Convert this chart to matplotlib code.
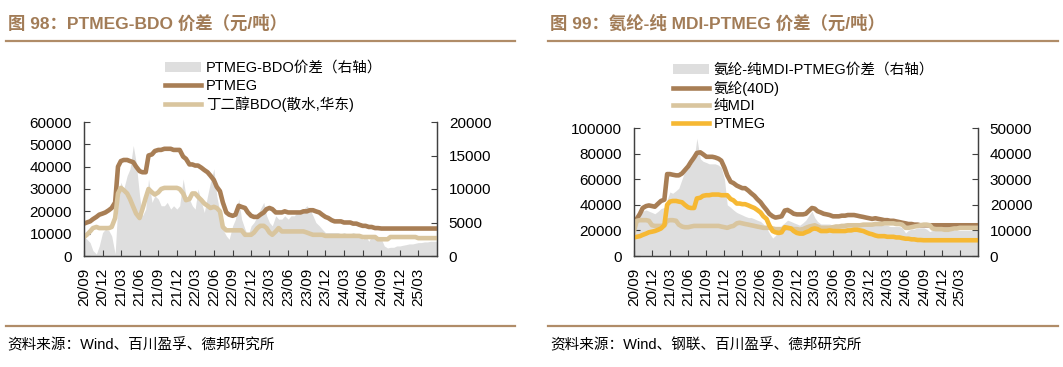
import matplotlib.pyplot as plt
import pandas as pd
from matplotlib.lines import Line2D

plt.rcParams["font.family"] = ["Liberation Sans", "Noto Sans CJK SC"]

# semi-monthly observations, 2020-09 .. 2025-06
dates = pd.date_range("2020-09-01", "2025-06-01", freq="SMS")
quarter_ticks = pd.date_range("2020-09-01", "2025-03-01", freq="3MS")

ptmeg = [
    14500, 15000, 15500, 16500, 17500, 18500, 19000, 19500,  # 20/09-20/12
    20500, 21500, 24000, 40000, 42500, 43000, 43000, 42500, 42000, 40000, 38000, 37500,
    37500, 45000, 45500, 47000, 47500, 47500, 48000, 48000, 48000, 47500, 47500, 47500,
    44500, 43500, 41000, 41000, 40500, 40500, 39500, 38500, 37500, 36000, 34000, 31000,
    29000, 24000, 19500, 18500, 18000, 18500, 22500, 22000, 21500, 19500, 18000, 17500,
    17500, 18500, 19500, 21000, 21500, 21000, 19500, 19500, 19500, 20000, 19500, 19500,
    19500, 19500, 19500, 20000, 20000, 20500, 20500, 20000, 19500, 18500, 17500, 17000,
    16000, 15500, 15500, 15500, 15000, 15000, 15000, 14500, 14500, 14000, 13500, 13500,
    13000, 13000, 12500, 12500, 12300, 12300, 12300, 12300, 12300, 12300, 12300, 12300,
    12300, 12300, 12300, 12300, 12300, 12300, 12300, 12300, 12300, 12300, 12300,
]
bdo = [
    8500, 9500, 11000, 12500, 13000, 12500, 12500, 12500,
    12500, 13000, 17000, 28000, 30500, 29500, 28000, 25500, 22000, 19000, 17000, 21000,
    26000, 30000, 28500, 27500, 28500, 30000, 30500, 30500, 30500, 30500, 30500, 30000,
    28000, 25000, 25500, 28000, 28000, 26500, 25000, 23500, 22500, 21500, 22000, 21500,
    20000, 13000, 11500, 11500, 11500, 11500, 11500, 11500, 9500, 9500, 9500, 10500,
    12500, 13500, 13500, 12500, 10500, 9500, 11000, 12500, 11000, 11000, 11000, 11000,
    11000, 11000, 11000, 11000, 10500, 10000, 9500, 9500, 9500, 9500, 9000, 9000,
    9000, 9000, 9000, 9000, 9000, 9000, 9000, 9000, 9000, 9000, 8500, 8500,
    8500, 8500, 8500, 7500, 7500, 7500, 7500, 8500, 8500, 8500, 8500, 8500,
    8500, 8500, 8500, 8500, 8000, 8000, 8000, 8000, 8000, 8000, 8000,
]
ptmeg_bdo = [
    3000, 2500, 2000, 800, 300, 1500, 3500, 4000,
    3800, 3000, 300, 8000, 11000, 10000, 12000, 13000, 16500, 14000, 9000, 6000,
    7000, 11500, 8000, 9000, 8500, 7500, 7500, 8000, 7000, 7500, 7000, 7500,
    11500, 9000, 8500, 7500, 7000, 10000, 8000, 6500, 9000, 11000, 13000, 9000,
    6500, 4000, 3000, 2500, 4500, 5500, 8500, 5500, 4000, 3000, 4500, 5000,
    6000, 7000, 8000, 6000, 5000, 4500, 6000, 5500, 5500, 6000, 5500, 6000,
    6000, 6500, 6500, 7000, 7500, 7000, 6000, 5000, 4500, 4000, 3500, 3500,
    3500, 3500, 3500, 3300, 3500, 3300, 3300, 3500, 3300, 3000, 2500, 3000,
    2200, 3000, 3000, 2500, 2500, 1500, 1200, 1300, 1300, 1500, 1500, 1600,
    1700, 1800, 1800, 1900, 2000, 2000, 2100, 2100, 2200, 2200, 2200,
]

spandex = [
    28000, 29000, 33000, 37500, 39000, 39500, 39000, 38500,
    41000, 43000, 44000, 64000, 64000, 63500, 63000, 63000, 64500, 67000, 70000, 73500,
    77000, 80500, 81000, 79500, 77500, 77500, 77500, 77000, 76000, 74500, 69000, 63000,
    58000, 57000, 55000, 54000, 53000, 53000, 51000, 49000, 47000, 44500, 42000, 39000,
    36000, 33000, 31000, 30000, 30500, 31000, 35500, 36000, 34500, 33000, 32500, 32500,
    32500, 33000, 35500, 37500, 37000, 35000, 34000, 33000, 32500, 32000, 31000, 31000,
    31000, 31500, 31500, 32000, 32000, 32000, 31500, 31000, 30500, 30000, 29500, 29000,
    29500, 29000, 28500, 28000, 28000, 27500, 27500, 27000, 26500, 26000, 25500, 25000,
    25000, 24500, 24500, 24000, 24000, 24000, 24000, 24000, 24000, 24000, 24000, 24000,
    24000, 24000, 24000, 24000, 24000, 24000, 24000, 24000, 24000, 24000, 24000,
]
mdi = [
    19500, 27500, 28000, 28000, 28000, 27500, 24000, 23500,
    23500, 23500, 24000, 27500, 28000, 28000, 27500, 24500, 23000, 22500, 22500, 23000,
    23500, 23500, 23500, 23500, 23500, 23500, 23500, 23500, 23500, 23000, 22500, 22000,
    23000, 23500, 25500, 26000, 25500, 25000, 24500, 24000, 23500, 23000, 22500, 22000,
    22000, 22000, 21500, 21000, 21000, 21000, 21500, 22000, 21500, 21000, 21000, 20500,
    21000, 22000, 23000, 23500, 24000, 23000, 22000, 22000, 22000, 22000, 22500, 23000,
    23000, 23500, 23500, 24000, 24000, 24000, 24000, 24000, 24500, 24500, 24500, 24500,
    25000, 25000, 25000, 25500, 25500, 25500, 25500, 25000, 25000, 24500, 22000, 22000,
    22500, 23000, 23500, 24000, 24500, 24500, 24000, 21500, 21000, 21000, 21000, 20500,
    20500, 21000, 21500, 21500, 22000, 22000, 22000, 22000, 22000, 22000, 22000,
]
spandex_spread = [
    13000, 15000, 16000, 17500, 18000, 17500, 17000, 16500,
    17500, 18500, 19000, 22000, 25000, 24500, 25500, 26500, 30000, 33000, 34000, 35500,
    38000, 46000, 38000, 37000, 36500, 36000, 36000, 36000, 35500, 34500, 30000, 20000,
    19000, 18000, 17000, 16500, 16000, 15500, 15000, 15000, 14500, 14000, 13500, 12500,
    11000, 9000, 7000, 8000, 10000, 12000, 13000, 14000, 13500, 13000, 12500, 12000,
    13000, 14000, 16000, 17500, 15000, 13500, 12500, 12500, 12500, 12500, 12000, 12500,
    12500, 12500, 13000, 13000, 13000, 13000, 13000, 12500, 12500, 12500, 12000, 12000,
    12000, 12000, 12000, 12000, 12000, 11500, 11500, 11500, 11500, 11000, 9000, 10000,
    10500, 10500, 11000, 11000, 11000, 10500, 9500, 10000, 10000, 10000, 10000, 10000,
    10000, 10000, 10000, 10000, 10000, 10000, 10000, 10000, 10000, 10000, 10000,
]

BROWN = "#a87e55"
TAN = "#d9c59e"
YELLOW = "#f6b833"
GRAY = "#dedede"
TITLE = "#a27c57"
RULE = "#b08c68"
AXIS = "#404040"


def draw_panel(ax, spread, spread_label, lines, left_ticks, right_ticks, legend_at):
    ax2 = ax.twinx()
    ax2.fill_between(dates, 0, spread, color=GRAY, lw=0, label=spread_label)
    for values, color, label in lines:
        ax.plot(dates, values, color=color, lw=3.3, label=label)
    ax.set_zorder(ax2.get_zorder() + 1)
    ax.patch.set_visible(False)

    ax.set_xlim(dates[0], dates[-1])
    ax.set_ylim(left_ticks[0], left_ticks[-1])
    ax2.set_ylim(right_ticks[0], right_ticks[-1])
    ax.set_yticks(left_ticks)
    ax2.set_yticks(right_ticks)
    ax.set_xticks(quarter_ticks)
    ax.set_xticklabels([d.strftime("%y/%m") for d in quarter_ticks], rotation=90, fontsize=10.5)
    for a in (ax, ax2):
        a.spines["top"].set_visible(False)
        for s in ("left", "right", "bottom"):
            a.spines[s].set_color(AXIS)
            a.spines[s].set_linewidth(0.9)
        a.tick_params(direction="in", length=4, color=AXIS, pad=8.5, labelsize=11)

    handles = ax2.get_legend_handles_labels()[0] + ax.get_legend_handles_labels()[0]
    ax.legend(handles=handles, loc="upper left", bbox_to_anchor=legend_at,
              bbox_transform=ax.figure.transFigure, frameon=False, fontsize=10.5,
              handlelength=2.5, handletextpad=0.3, labelspacing=0.25,
              borderpad=0, borderaxespad=0)


fig = plt.figure(figsize=(10.63, 3.67), dpi=100)
W, H = 1063, 367

ax_left = fig.add_axes([84 / W, 1 - 256 / H, 353 / W, 134 / H])
draw_panel(ax_left, ptmeg_bdo, "PTMEG-BDO价差（右轴）",
           [(ptmeg, BROWN, "PTMEG"), (bdo, TAN, "丁二醇BDO(散水,华东)")],
           list(range(0, 60001, 10000)), list(range(0, 20001, 5000)),
           (165 / W, 1 - 61 / H))

ax_right = fig.add_axes([634 / W, 1 - 256 / H, 344 / W, 128 / H])
draw_panel(ax_right, spandex_spread, "氨纶-纯MDI-PTMEG价差（右轴）",
           [(spandex, BROWN, "氨纶(40D)"), (mdi, TAN, "纯MDI"), (ptmeg, YELLOW, "PTMEG")],
           list(range(0, 100001, 20000)), list(range(0, 50001, 10000)),
           (673 / W, 1 - 63 / H))

# titles, rules and sources
fig.text(8 / W, 1 - 23 / H, "图 98：PTMEG-BDO 价差（元/吨）", color=TITLE,
         fontsize=12.5, fontweight="bold", va="center")
fig.text(550 / W, 1 - 23 / H, "图 99：氨纶-纯 MDI-PTMEG 价差（元/吨）", color=TITLE,
         fontsize=12.5, fontweight="bold", va="center")
for x0, x1 in ((6, 515), (548, 1058)):
    fig.add_artist(Line2D([x0 / W, x1 / W], [1 - 41 / H] * 2, color=RULE, lw=1.6))
    fig.add_artist(Line2D([x0 / W, x1 / W], [1 - 326 / H] * 2, color=RULE, lw=1.6))
fig.text(7 / W, 1 - 345 / H, "资料来源：Wind、百川盈孚、德邦研究所", fontsize=10.5, va="center")
fig.text(550 / W, 1 - 345 / H, "资料来源：Wind、钢联、百川盈孚、德邦研究所", fontsize=10.5, va="center")

fig.savefig("out.png", dpi=100)
